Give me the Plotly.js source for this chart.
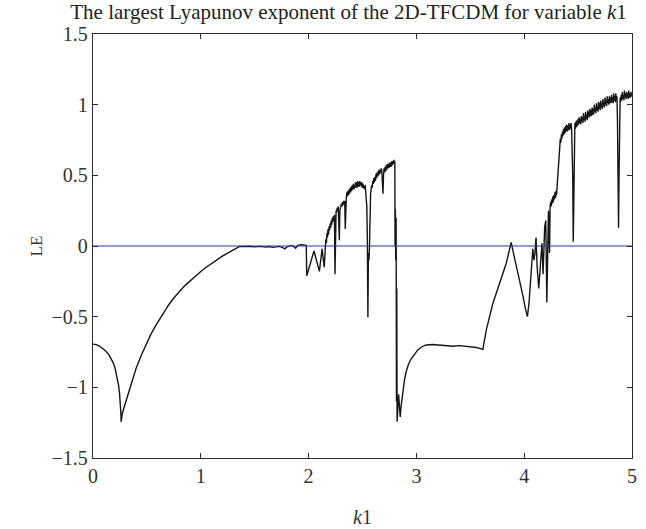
<!DOCTYPE html>
<html>
<head>
<meta charset="utf-8">
<script src="https://cdn.plot.ly/plotly-3.0.1.min.js"></script>
<style>
  html, body { margin: 0; padding: 0; background: #fff; }
  #chart { width: 646px; height: 529px; }
</style>
</head>
<body>
<div id="chart"></div>
<script>
// Largest Lyapunov exponent sampled along the parameter k1
const k1Values = [
  // periodic window near k1 = 0
  0, 0.03, 0.06, 0.09, 0.12, 0.15, 0.169, 0.19, 0.205, 0.215, 0.228, 0.238,
  0.246, 0.252, 0.256, 0.259, 0.261,
  0.265, 0.272, 0.285, 0.308, 0.35, 0.40, 0.45, 0.49, 0.53, 0.57, 0.617, 0.66,
  0.70, 0.74, 0.78, 0.82, 0.86, 0.90, 0.95, 1.00, 1.05, 1.10, 1.15, 1.20,
  1.266, 1.31, 1.34, 1.36,
  // quasi-periodic plateau
  1.40, 1.45, 1.50, 1.55, 1.60, 1.63, 1.67, 1.70, 1.73, 1.76, 1.78, 1.80, 1.82,
  1.85, 1.88, 1.90, 1.93, 1.96, 1.978,
  // first chaotic band
  1.983, 2.05, 2.10, 2.125, 2.145,
  2.16, 2.165, 2.17, 2.175, 2.18, 2.185, 2.19, 2.195, 2.20, 2.205, 2.21, 2.215,
  2.22, 2.225, 2.23, 2.235, 2.24, 2.245, 2.25, 2.255, 2.26, 2.265, 2.27, 2.275,
  2.28, 2.285, 2.29, 2.295, 2.30, 2.305, 2.31, 2.315, 2.32, 2.325, 2.33, 2.335,
  2.34, 2.345,
  2.350, 2.355, 2.360, 2.365, 2.370, 2.375, 2.380, 2.385, 2.390, 2.395, 2.400, 2.405,
  2.410, 2.415, 2.420, 2.425, 2.430, 2.435, 2.440, 2.445, 2.450, 2.455, 2.460, 2.465,
  2.470, 2.475, 2.480, 2.485, 2.490, 2.495, 2.500, 2.505, 2.510, 2.515, 2.520, 2.525,
  2.530, 2.535, 2.540, 2.545, 2.550, 2.555, 2.560, 2.565,
  2.570, 2.575, 2.580, 2.585, 2.590, 2.595, 2.600, 2.605, 2.610, 2.615, 2.620, 2.625,
  2.630, 2.635, 2.640, 2.645, 2.650, 2.655, 2.660, 2.665, 2.670, 2.675, 2.680, 2.685,
  2.690, 2.695, 2.700, 2.705, 2.710, 2.715, 2.720, 2.725, 2.730, 2.735, 2.740, 2.745,
  2.750, 2.755, 2.760, 2.765, 2.770, 2.775, 2.780, 2.785, 2.790, 2.795, 2.800,
  2.802, 2.805, 2.808, 2.812, 2.815, 2.818, 2.821, 2.835, 2.85,
  // second periodic window
  2.86, 2.874, 2.89, 2.905, 2.925, 2.95, 2.98, 3.013, 3.05, 3.09, 3.15, 3.21, 3.28,
  3.34, 3.40, 3.46, 3.51, 3.555, 3.59, 3.616,
  3.648, 3.709, 3.771, 3.833, 3.879,
  // transition
  3.885, 3.90, 3.92, 3.95, 3.97, 3.99, 4.01, 4.03, 4.045, 4.06, 4.08, 4.09,
  4.10, 4.11, 4.12, 4.135, 4.15, 4.165, 4.175, 4.185, 4.19, 4.20, 4.21, 4.225,
  4.235,
  // second chaotic band
  4.240, 4.245, 4.250, 4.255, 4.260, 4.265, 4.270, 4.275, 4.280, 4.285, 4.290, 4.295,
  4.300, 4.305, 4.310, 4.315, 4.320, 4.325,
  4.330, 4.335, 4.340, 4.345, 4.350, 4.355, 4.360, 4.365, 4.370, 4.375, 4.380, 4.385,
  4.390, 4.395, 4.400, 4.405, 4.410, 4.415, 4.420, 4.425, 4.430, 4.435, 4.440, 4.445,
  4.450, 4.455, 4.460, 4.465,
  4.470, 4.475, 4.480, 4.485, 4.490, 4.495, 4.500, 4.505, 4.510, 4.515, 4.520, 4.525,
  4.530, 4.535, 4.540, 4.545, 4.550, 4.555, 4.560, 4.565, 4.570, 4.575, 4.580, 4.585,
  4.590, 4.595, 4.600, 4.605, 4.610, 4.615, 4.620, 4.625, 4.630, 4.635, 4.640, 4.645,
  4.650, 4.655, 4.660, 4.665, 4.670, 4.675, 4.680, 4.685, 4.690, 4.695, 4.700, 4.705,
  4.710, 4.715, 4.720, 4.725, 4.730, 4.735, 4.740, 4.745, 4.750, 4.755, 4.760, 4.765,
  4.770, 4.775, 4.780, 4.785, 4.790, 4.795, 4.800, 4.805, 4.810, 4.815, 4.820, 4.825,
  4.830, 4.835, 4.840, 4.845, 4.850, 4.855, 4.860, 4.865, 4.870, 4.875, 4.880, 4.885,
  4.890, 4.895, 4.900, 4.905, 4.910, 4.915, 4.920, 4.925, 4.930, 4.935, 4.940, 4.945,
  4.950, 4.955, 4.960, 4.965, 4.970, 4.975, 4.980, 4.985, 4.990, 4.995, 5.000
];
const leValues = [
  -0.694, -0.698, -0.708, -0.725, -0.745, -0.772, -0.795, -0.83, -0.865, -0.90, -0.95, -0.99,
  -1.04, -1.09, -1.14, -1.19, -1.244,
  -1.215, -1.185, -1.15, -1.09, -0.985, -0.865, -0.77, -0.70, -0.636, -0.578, -0.517, -0.465,
  -0.419, -0.377, -0.34, -0.306, -0.275, -0.246, -0.212, -0.18, -0.15, -0.122, -0.096, -0.072,
  -0.044, -0.022, -0.009, -0.003,
  -0.004, -0.002, -0.006, -0.003, -0.008, -0.004, -0.010, -0.005, -0.003, -0.012, -0.020, -0.006, -0.004,
  0.004, -0.016, 0.005, 0.009, 0.007, 0.005,
  -0.21, -0.035, -0.18, -0.02, -0.15,
  0.05, 0.02, 0.09, 0.06, 0.12, 0.08, 0.14, 0.11, 0.16, 0.13, 0.18, 0.15,
  0.20, 0.17, 0.21, 0.18, 0.22, -0.20, 0.23, 0.25, 0.24, 0.27, 0.26, 0.28,
  0.20, 0.04, 0.25, 0.28, 0.27, 0.30, 0.28, 0.31, 0.29, 0.32, 0.30, 0.32,
  0.12, 0.33,
  0.34, 0.38, 0.35, 0.39, 0.36, 0.40, 0.37, 0.41, 0.38, 0.42, 0.39, 0.43,
  0.40, 0.44, 0.40, 0.43, 0.41, 0.45, 0.42, 0.45, 0.41, 0.46, 0.42, 0.45,
  0.42, 0.46, 0.43, 0.45, 0.42, 0.45, 0.41, 0.44, 0.41, 0.43, 0.40, 0.43,
  0.39, 0.36, 0.28, 0.05, -0.505, -0.05, -0.10, 0.0,
  0.30, 0.37, 0.40, 0.43, 0.41, 0.46, 0.44, 0.48, 0.45, 0.49, 0.46, 0.51,
  0.48, 0.52, 0.49, 0.53, 0.50, 0.54, 0.51, 0.54, 0.52, 0.55, 0.52, 0.45,
  0.37, 0.50, 0.55, 0.52, 0.56, 0.53, 0.57, 0.54, 0.58, 0.55, 0.58, 0.55,
  0.59, 0.56, 0.59, 0.56, 0.60, 0.57, 0.60, 0.58, 0.61, 0.58, 0.60,
  0.0, 0.26, -0.10, 0.20, -1.10, -0.30, -1.244, -1.05, -1.21,
  -1.12, -1.02, -0.945, -0.89, -0.84, -0.80, -0.765, -0.735, -0.713, -0.70, -0.697, -0.70, -0.706,
  -0.709, -0.705, -0.709, -0.712, -0.718, -0.724, -0.732,
  -0.595, -0.407, -0.265, -0.124, 0.025,
  0.0, -0.05, -0.12, -0.22, -0.28, -0.36, -0.44, -0.50, -0.40, -0.20, -0.02, -0.10,
  -0.05, 0.06, -0.15, -0.30, -0.10, 0.02, -0.20, 0.10, 0.135, 0.18, -0.40, 0.25,
  -0.05,
  0.27, 0.31, 0.28, 0.33, 0.30, 0.35, 0.31, 0.36, 0.33, 0.38, 0.34, 0.39,
  0.36, 0.42, 0.45, 0.49, 0.60, 0.68,
  0.72, 0.76, 0.73, 0.79, 0.76, 0.81, 0.78, 0.83, 0.79, 0.84, 0.80, 0.85,
  0.81, 0.86, 0.81, 0.85, 0.82, 0.87, 0.82, 0.86, 0.83, 0.87, 0.82, 0.70,
  0.50, 0.03, 0.55, 0.84,
  0.87, 0.83, 0.88, 0.84, 0.89, 0.85, 0.90, 0.86, 0.91, 0.87, 0.90, 0.86,
  0.92, 0.88, 0.91, 0.87, 0.94, 0.89, 0.92, 0.88, 0.95, 0.90, 0.93, 0.89,
  0.96, 0.91, 0.95, 0.91, 0.97, 0.92, 0.96, 0.92, 0.98, 0.93, 0.97, 0.93,
  1.00, 0.95, 0.98, 0.94, 1.01, 0.96, 0.99, 0.95, 1.02, 0.97, 1.01, 0.96,
  1.03, 0.98, 1.01, 0.97, 1.04, 0.99, 1.02, 0.98, 1.05, 1.00, 1.03, 0.99,
  1.06, 1.01, 1.04, 1.00, 1.06, 1.01, 1.05, 1.01, 1.07, 1.02, 1.05, 1.01,
  1.08, 1.03, 1.06, 1.02, 1.08, 1.03, 1.06, 0.90, 0.40, 0.13, 0.50, 0.95,
  1.05, 1.02, 1.07, 1.03, 1.09, 1.04, 1.07, 1.03, 1.10, 1.05, 1.08, 1.04,
  1.09, 1.05, 1.08, 1.04, 1.10, 1.05, 1.08, 1.05, 1.09, 1.06, 1.07
];

// Zero reference line
const zeroK = [0, 5];
const zeroLE = [0, 0];

// Tick positions and labels
const xTickVals = [0, 1, 2, 3, 4, 5];
const xTickText = ['0', '1', '2', '3', '4', '5'];
const yTickVals = [1.5, 1, 0.5, 0, -0.5, -1, -1.5];
const yTickText = ['1.5', '1', '0.5', '0', '\u22120.5', '\u22121', '\u22121.5'];

const serif = '"Liberation Serif", "Times New Roman", serif';
const axisColor = '#2b2b2b';

const traces = [
  {
    x: k1Values, y: leValues, type: 'scatter', mode: 'lines',
    line: { color: '#151515', width: 1.4 },
    hoverinfo: 'skip'
  },
  {
    x: zeroK, y: zeroLE, type: 'scatter', mode: 'lines',
    line: { color: '#1d3fa0', width: 1.2 },
    hoverinfo: 'skip'
  }
];

const axisCommon = {
  showgrid: false, zeroline: false,
  showline: true, mirror: 'ticks', linecolor: axisColor, linewidth: 1.3,
  ticks: 'inside', ticklen: 5, tickwidth: 1, tickcolor: axisColor,
  tickmode: 'array',
  tickfont: { family: serif, size: 20, color: '#333' },
  fixedrange: true
};

const layout = {
  width: 646, height: 529,
  margin: { l: 93, r: 14, t: 34, b: 71, pad: 0 },
  paper_bgcolor: '#fff', plot_bgcolor: '#fff',
  showlegend: false,
  title: {
    text: 'The largest Lyapunov exponent of the 2D-TFCDM for variable <i>k</i>1',
    font: { family: serif, size: 21, color: '#222' },
    xref: 'container', x: 0.5395, xanchor: 'center',
    yref: 'container', y: 0.978, yanchor: 'middle'
  },
  xaxis: Object.assign({}, axisCommon, {
    range: [0, 5], tickvals: xTickVals, ticktext: xTickText,
    title: { text: '<i>k</i>1', font: { family: serif, size: 20, color: '#333' }, standoff: 23 }
  }),
  yaxis: Object.assign({}, axisCommon, {
    range: [-1.5, 1.5], tickvals: yTickVals, ticktext: yTickText,
    title: { text: 'LE', font: { family: serif, size: 17, color: '#333' }, standoff: 4 }
  })
};

Plotly.newPlot('chart', traces, layout, { displayModeBar: false, staticPlot: true });
</script>
</body>
</html>
